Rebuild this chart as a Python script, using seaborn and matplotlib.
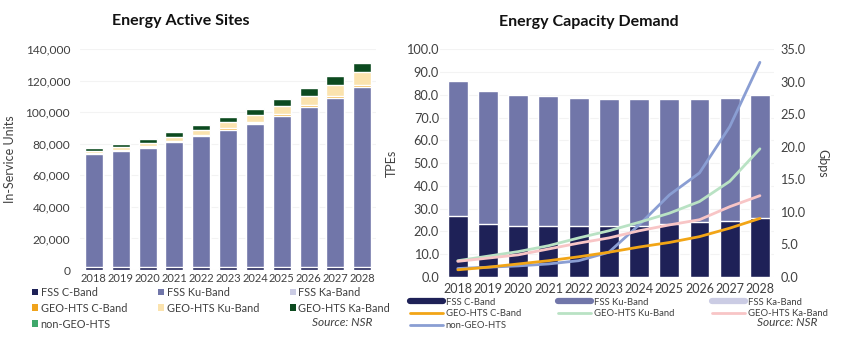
import numpy as np
import pandas as pd
import matplotlib
matplotlib.use("Agg")
import matplotlib.pyplot as plt
from matplotlib.patches import Patch
from matplotlib.lines import Line2D
from matplotlib.ticker import FuncFormatter
import seaborn as sns

sns.set_style("white")
plt.rcParams['font.family'] = ['Lato', 'DejaVu Sans']

years = ["2018", "2019", "2020", "2021", "2022", "2023", "2024", "2025", "2026", "2027", "2028"]

# Left chart: Energy Active Sites (in-service units)
sites_fss_c = [1800, 1800, 1700, 1700, 1700, 1700, 1700, 1700, 1700, 1700, 1900]
sites_fss_ku = [71400, 73300, 75900, 79300, 83100, 87100, 91100, 95900, 101400, 107300, 113800]
sites_fss_ka = [100, 100, 100, 100, 100, 100, 100, 100, 100, 100, 100]
sites_geo_c = [700, 700, 800, 800, 900, 900, 1000, 1100, 1200, 1300, 1400]
sites_geo_ku = [1500, 1800, 2200, 2600, 2900, 3700, 4400, 5200, 6000, 7000, 8300]
sites_geo_ka = [2100, 2300, 2600, 2800, 3000, 3500, 3900, 4300, 5000, 5600, 5900]
sites_ngeo = [100, 100, 100, 100, 200, 200, 200, 200, 300, 300, 300]

# Right chart: Energy Capacity Demand
tpe_fss_c = [26.6, 23.3, 22.6, 22.6, 22.6, 22.6, 22.6, 23.2, 24.1, 24.8, 25.9]
tpe_fss_ku = [59.3, 58.3, 57.3, 56.7, 56.1, 55.7, 55.4, 54.8, 54.2, 53.7, 54.0]
tpe_fss_ka = [0.0, 0.0, 0.0, 0.0, 0.0, 0.0, 0.0, 0.0, 0.0, 0.0, 0.0]
gbps_geo_c = [1.1, 1.5, 2.0, 2.5, 3.1, 3.8, 4.6, 5.3, 6.2, 7.5, 9.0]
gbps_geo_ku = [2.5, 3.2, 3.9, 4.8, 6.0, 7.1, 8.4, 9.8, 11.6, 14.7, 19.7]
gbps_geo_ka = [2.4, 2.9, 3.4, 4.3, 5.2, 6.0, 7.1, 8.0, 8.8, 10.8, 12.5]
gbps_ngeo = [1.3, 1.5, 1.7, 2.0, 2.5, 3.8, 8.0, 12.6, 16.0, 23.1, 33.0]

C_FSS_C = "#1E2157"
C_FSS_KU = "#7176A9"
C_FSS_KA = "#CBCCE4"
C_GEO_C = "#F0A31C"
C_GEO_KU = "#FBE3AE"
C_GEO_KA = "#0C4A1F"
C_NGEO = "#3FA86B"
L_GEO_C = "#F2A516"
L_GEO_KU = "#B9E2C4"
L_GEO_KA = "#F8C5C6"
L_NGEO = "#8A9ED3"

fig = plt.figure(figsize=(8.5, 3.39), dpi=100)
axL = fig.add_axes([0.094, 0.2035, 0.348, 0.652])
axR = fig.add_axes([0.518, 0.183, 0.392, 0.6715])

TXT = "#404040"


def row_major(h, ncol=3):
    n = len(h)
    rows = int(np.ceil(n / ncol))
    out = []
    for c in range(ncol):
        for r in range(rows):
            i = r * ncol + c
            if i < n:
                out.append(h[i])
    return out


# ---- Left stacked bars ----
layers = [
    ("FSS C-Band", sites_fss_c, C_FSS_C),
    ("FSS Ku-Band", sites_fss_ku, C_FSS_KU),
    ("FSS Ka-Band", sites_fss_ka, C_FSS_KA),
    ("GEO-HTS C-Band", sites_geo_c, C_GEO_C),
    ("GEO-HTS Ku-Band", sites_geo_ku, C_GEO_KU),
    ("GEO-HTS Ka-Band", sites_geo_ka, C_GEO_KA),
    ("non-GEO-HTS", sites_ngeo, C_NGEO),
]
cum = np.cumsum(np.array([l[1] for l in layers], dtype=float), axis=0)
for i in range(len(layers) - 1, -1, -1):
    df = pd.DataFrame({"year": years, "v": cum[i]})
    sns.barplot(data=df, x="year", y="v", color=layers[i][2], width=0.67,
                saturation=1, ax=axL, order=years)
axL.set_ylim(0, 140000)
axL.set_xlim(-0.52, 10.5)
axL.set_yticks(np.arange(0, 140001, 20000))
axL.yaxis.set_major_formatter(FuncFormatter(lambda v, p: f"{int(v):,}"))
axL.grid(axis="y", color="#F3F3F3", lw=0.8)
axL.set_axisbelow(True)
for s in axL.spines.values():
    s.set_visible(False)
axL.tick_params(axis="x", length=0, labelsize=8.0, colors=TXT, pad=2)
axL.tick_params(axis="y", length=0, labelsize=8.6, colors=TXT, pad=7)
axL.set_xlabel("")
axL.set_ylabel("In-Service Units", fontsize=9, color=TXT)
axL.yaxis.set_label_coords(-0.215, 0.5)
axL.set_title("Energy Active Sites", fontsize=11.5, fontweight="bold", color="#111111",
              pad=17, x=0.34)

handlesL = [Patch(facecolor=c, edgecolor="none", label=n) for n, _, c in layers]
fig.legend(handles=row_major(handlesL), loc="upper left", bbox_to_anchor=(0.0376, 0.154),
           bbox_transform=fig.transFigure, ncol=3, frameon=False, fontsize=7.8,
           handlelength=0.6, handleheight=0.6, handletextpad=0.2, columnspacing=2.85,
           labelspacing=0.45, labelcolor=TXT, borderpad=0, borderaxespad=0)
fig.text(0.438, 0.033, "Source: NSR", style="italic", ha="right", va="bottom",
         fontsize=8.6, color=TXT)

# ---- Right bars + lines ----
rl = [("FSS C-Band", tpe_fss_c, C_FSS_C), ("FSS Ku-Band", tpe_fss_ku, C_FSS_KU),
      ("FSS Ka-Band", tpe_fss_ka, C_FSS_KA)]
cumR = np.cumsum(np.array([l[1] for l in rl], dtype=float), axis=0)
for i in range(len(rl) - 1, -1, -1):
    df = pd.DataFrame({"year": years, "v": cumR[i]})
    sns.barplot(data=df, x="year", y="v", color=rl[i][2], width=0.66,
                saturation=1, ax=axR, order=years)
axR.set_ylim(0, 100)
axR.set_xlim(-0.58, 10.45)
axR.set_yticks(np.arange(0, 100.1, 10))
axR.yaxis.set_major_formatter(FuncFormatter(lambda v, p: f"{v:.1f}"))
axR.grid(axis="y", color="#F3F3F3", lw=0.8)
axR.set_axisbelow(True)
for s in axR.spines.values():
    s.set_visible(False)
axR.tick_params(axis="x", length=0, labelsize=9.0, colors=TXT, pad=4)
axR.tick_params(axis="y", length=0, labelsize=9.2, colors=TXT, pad=1)
axR.set_xlabel("")
axR.set_ylabel("TPEs", fontsize=9, color=TXT)
axR.yaxis.set_label_coords(-0.126, 0.5)
axR.set_title("Energy Capacity Demand", fontsize=11.5, fontweight="bold", color="#111111",
              pad=17, x=0.447)

ax2 = axR.twinx()
xpos = np.arange(len(years))
lines = [("GEO-HTS C-Band", gbps_geo_c, L_GEO_C),
         ("GEO-HTS Ku-Band", gbps_geo_ku, L_GEO_KU),
         ("GEO-HTS Ka-Band", gbps_geo_ka, L_GEO_KA),
         ("non-GEO-HTS", gbps_ngeo, L_NGEO)]
for n, v, c in [lines[3], lines[1], lines[2], lines[0]]:
    sns.lineplot(x=xpos, y=v, color=c, lw=2.0, ax=ax2, legend=False)
ax2.set_ylim(0, 35)
ax2.set_xlim(-0.58, 10.45)
ax2.set_yticks(np.arange(0, 35.1, 5))
ax2.yaxis.set_major_formatter(FuncFormatter(lambda v, p: f"{v:.1f}"))
for s in ax2.spines.values():
    s.set_visible(False)
ax2.tick_params(axis="y", length=0, labelsize=9.2, colors=TXT, pad=5)
ax2.set_ylabel("Gbps", fontsize=9, color=TXT, rotation=270, va="center")
ax2.yaxis.set_label_coords(1.148, 0.5)

handlesR = [
    Line2D([], [], color=C_FSS_C, lw=4.5, label="FSS C-Band"),
    Line2D([], [], color=C_FSS_KU, lw=4.5, label="FSS Ku-Band"),
    Line2D([], [], color=C_FSS_KA, lw=4.5, label="FSS Ka-Band"),
    Line2D([], [], color=L_GEO_C, lw=2, label="GEO-HTS C-Band"),
    Line2D([], [], color=L_GEO_KU, lw=2, label="GEO-HTS Ku-Band"),
    Line2D([], [], color=L_GEO_KA, lw=2, label="GEO-HTS Ka-Band"),
    Line2D([], [], color=L_NGEO, lw=2, label="non-GEO-HTS"),
]
fig.legend(handles=row_major(handlesR), loc="upper left", bbox_to_anchor=(0.482, 0.122),
           bbox_transform=fig.transFigure, ncol=3, frameon=False, fontsize=6.8,
           handlelength=3.5, handletextpad=0.3, columnspacing=3.95,
           labelspacing=0.3, labelcolor=TXT, borderpad=0, borderaxespad=0)
fig.text(0.962, 0.033, "Source: NSR", style="italic", ha="right", va="bottom",
         fontsize=8.6, color=TXT)

fig.savefig("out.png", dpi=100)
